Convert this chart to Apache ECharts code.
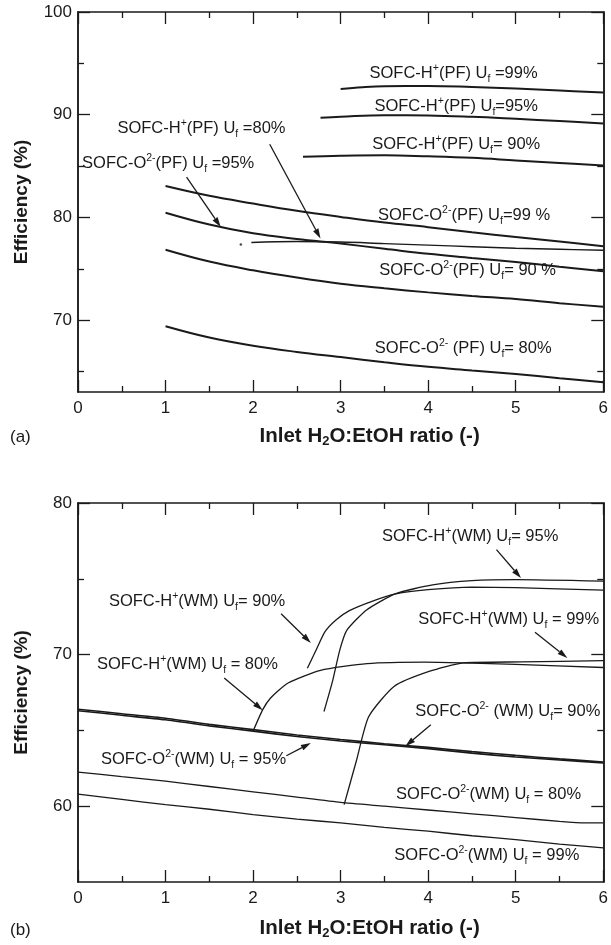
<!DOCTYPE html>
<html>
<head>
<meta charset="utf-8">
<script src="https://cdn.jsdelivr.net/npm/echarts@6/dist/echarts.min.js"></script>
<style>
html,body{margin:0;padding:0;background:#fff}
#chart{width:611px;height:945px}
</style>
</head>
<body>
<div id="chart"></div>
<script>
// ---- panel (a): PF curves, efficiency (%) vs inlet H2O:EtOH ratio ----
var pfO80 = [[1,69.4],[1.5,68.3],[2,67.5],[2.5,66.9],[3,66.4],[3.5,65.9],[4,65.45],[4.5,65.1],[5,64.75],[5.5,64.35],[6,63.95]];
var pfO90 = [[1,76.85],[1.5,75.7],[2,74.85],[2.5,74.15],[3,73.55],[3.5,73.1],[4,72.7],[4.5,72.35],[5,72.05],[5.5,71.65],[6,71.3]];
var pfO95 = [[1,80.45],[1.5,79.3],[2,78.45],[2.5,77.9],[3,77.45],[3.5,76.95],[4,76.45],[4.5,76.05],[5,75.65],[5.5,75.2],[6,74.75]];
var pfO99 = [[1,83.05],[1.5,82.1],[2,81.35],[2.5,80.65],[3,80.05],[3.5,79.5],[4,79.05],[4.5,78.55],[5,78.1],[5.5,77.65],[6,77.2]];
var pfH80 = [[1.98,77.55],[2.5,77.65],[3,77.6],[3.5,77.45],[4,77.3],[4.5,77.15],[5,77.0],[5.5,76.9],[6,76.8]];
var pfH90 = [[2.57,85.9],[3,86.0],[3.5,86.05],[4,85.95],[4.5,85.8],[5,85.55],[5.5,85.3],[6,85.05]];
var pfH95 = [[2.77,89.7],[3,89.8],[3.5,89.95],[4,89.93],[4.5,89.8],[5,89.6],[5.5,89.38],[6,89.15]];
var pfH99 = [[3.0,92.5],[3.25,92.68],[3.5,92.78],[4,92.8],[4.5,92.7],[5,92.55],[5.5,92.35],[6,92.15]];
var pfDot = [[1.86,77.35]];

// ---- panel (b): WM curves ----
var wmO90 = [[0,66.3],[0.5,66.0],[1,65.7],[1.5,65.3],[2,64.95],[2.5,64.6],[3,64.3],[3.5,64.05],[4,63.8],[4.5,63.5],[5,63.25],[5.5,63.05],[6,62.85]];
var wmO95 = [[0,66.4],[0.5,66.1],[1,65.8],[1.5,65.4],[2,65.05],[2.5,64.7],[3,64.4],[3.5,64.12],[4,63.88],[4.5,63.6],[5,63.35],[5.5,63.12],[6,62.92]];
var wmO80 = [[0,62.25],[0.5,61.95],[1,61.65],[1.5,61.3],[2,60.95],[2.5,60.6],[3,60.25],[3.5,60.0],[4,59.75],[4.5,59.5],[5,59.25],[5.5,59.0],[5.8,58.9],[6,58.9]];
var wmO99 = [[0,60.8],[0.5,60.45],[1,60.1],[1.5,59.8],[2,59.45],[2.5,59.15],[3,58.9],[3.5,58.6],[4,58.35],[4.5,58.05],[5,57.8],[5.5,57.5],[6,57.25]];
var wmH80 = [[2.0,64.95],[2.11,66.37],[2.2,67.14],[2.4,68.13],[2.77,68.96],[3.3,69.4],[3.96,69.5],[4.4,69.45],[5,69.35],[6,69.15]];
var wmH90 = [[2.62,69.1],[2.72,70.3],[2.82,71.5],[2.95,72.3],[3.1,72.9],[3.35,73.5],[3.63,74.0],[4.0,74.28],[4.5,74.45],[5,74.42],[6,74.25]];
var wmH95 = [[2.81,66.25],[2.91,68.3],[2.99,70.3],[3.07,71.6],[3.3,72.96],[3.63,74.02],[4.05,74.6],[4.5,74.88],[5,74.95],[6,74.85]];
var wmH99 = [[3.04,60.1],[3.18,63.0],[3.32,65.9],[3.61,67.9],[4.01,68.89],[4.4,69.45],[5.06,69.52],[6,69.6]];

// axis ticks
var xTicks = [0, 1, 2, 3, 4, 5, 6];
var pfYMajor = [70, 80, 90, 100];
var pfYMinor = [65, 75, 85, 95];
var wmYMajor = [60, 70, 80];
var wmYMinor = [65, 75];

// annotation labels (data coords) and arrows [x1, y1, x2, y2]
var pfLabelPos = [[4.29,94.0],[4.32,90.82],[4.32,87.12],[1.41,88.65],[1.03,85.24],[4.41,80.2],[4.45,74.85],[4.40,67.2]];
var pfLabelText = [
  '{n|SOFC-H}{sup|+}{n|(PF) U}{sub|f}{n| =99%}',
  '{n|SOFC-H}{sup|+}{n|(PF) U}{sub|f}{n|=95%}',
  '{n|SOFC-H}{sup|+}{n|(PF) U}{sub|f}{n|= 90%}',
  '{n|SOFC-H}{sup|+}{n|(PF) U}{sub|f}{n| =80%}',
  '{n|SOFC-O}{sup|2-}{n|(PF) U}{sub|f}{n| =95%}',
  '{n|SOFC-O}{sup|2-}{n|(PF) U}{sub|f}{n|=99 %}',
  '{n|SOFC-O}{sup|2-}{n|(PF) U}{sub|f}{n|= 90 %}',
  '{n|SOFC-O}{sup|2-}{n| (PF) U}{sub|f}{n|= 80%}'
];
var pfArrows = [[2.19,87.12,2.77,77.94],[1.24,83.93,1.63,79.07]];

var wmLabelPos = [[4.48,77.8],[1.36,73.51],[4.92,72.3],[1.25,69.36],[4.91,66.25],[1.32,63.06],[4.69,60.76],[4.67,56.73]];
var wmLabelText = [
  '{n|SOFC-H}{sup|+}{n|(WM) U}{sub|f}{n|= 95%}',
  '{n|SOFC-H}{sup|+}{n|(WM) U}{sub|f}{n|= 90%}',
  '{n|SOFC-H}{sup|+}{n|(WM) U}{sub|f}{n| = 99%}',
  '{n|SOFC-H}{sup|+}{n|(WM) U}{sub|f}{n| = 80%}',
  '{n|SOFC-O}{sup|2-}{n| (WM) U}{sub|f}{n|= 90%}',
  '{n|SOFC-O}{sup|2-}{n|(WM) U}{sub|f}{n| = 95%}',
  '{n|SOFC-O}{sup|2-}{n|(WM) U}{sub|f}{n| = 80%}',
  '{n|SOFC-O}{sup|2-}{n|(WM) U}{sub|f}{n| = 99%}'
];
var wmArrows = [[4.78,76.92,5.06,75.05],[2.32,72.7,2.66,70.77],[5.22,71.47,5.59,69.78],[1.67,68.46,2.11,66.33],[4.03,65.38,3.74,63.95],[2.38,63.33,2.66,64.17]];

var FONT = "'Liberation Sans', Arial, sans-serif";
var INK = '#1a1a1a';

var rich = {
  n: {fontSize: 16.5, lineHeight: 22, fontFamily: FONT, fill: INK},
  sup: {fontSize: 10.5, lineHeight: 10, verticalAlign: 'top', fontFamily: FONT, fill: INK},
  sub: {fontSize: 10.5, lineHeight: 10, verticalAlign: 'bottom', fontFamily: FONT, fill: INK}
};

var chart = echarts.init(document.getElementById('chart'));

function xAxes(gi, nameGap) {
  var base = {
    gridIndex: gi, type: 'value', min: 0, max: 6, interval: 1,
    splitLine: {show: false},
    axisLine: {show: true, onZero: false, lineStyle: {color: INK, width: 1.5}},
    axisTick: {show: true, inside: true, length: 12, lineStyle: {color: INK, width: 1.3}},
    minorTick: {show: true, splitNumber: 2, length: 6, lineStyle: {color: INK, width: 1.3}}
  };
  var bottom = Object.assign({}, base, {
    position: 'bottom',
    axisLabel: {show: true, customValues: xTicks, fontSize: 17, color: INK, fontFamily: FONT, margin: 8},
    name: '{b|Inlet H}{s|2}{b|O:EtOH ratio (-)}',
    nameLocation: 'middle',
    nameGap: nameGap,
    nameTextStyle: {
      padding: [0, 0, 0, 58],
      rich: {
        b: {fontSize: 20.5, fontWeight: 'bold', fontFamily: FONT, color: INK, lineHeight: 24},
        s: {fontSize: 13, fontWeight: 'bold', fontFamily: FONT, color: INK, lineHeight: 12, verticalAlign: 'bottom'}
      }
    }
  });
  var top = Object.assign({}, base, {position: 'top', axisLabel: {show: false}});
  return [bottom, top];
}

function yAxes(gi, min, max, major, minor) {
  function ax(pos, ticks, len, labels) {
    return {
      gridIndex: gi, type: 'value', min: min, max: max, position: pos,
      splitLine: {show: false},
      axisLine: {show: true, onZero: false, lineStyle: {color: INK, width: 1.5}},
      axisTick: {show: true, inside: true, length: len, customValues: ticks, lineStyle: {color: INK, width: 1.3}},
      axisLabel: labels ? {show: true, customValues: ticks, fontSize: 17, color: INK, fontFamily: FONT, margin: 6} : {show: false}
    };
  }
  var left = ax('left', major, 12, true);
  left.name = 'Efficiency (%)';
  left.nameLocation = 'middle';
  left.nameGap = 47;
  left.nameTextStyle = {fontSize: 19, fontWeight: 'bold', fontFamily: FONT, color: INK};
  return [left, ax('left', minor, 6, false), ax('right', major, 12, false), ax('right', minor, 6, false)];
}

function curve(data, gi, width, smooth) {
  return {
    type: 'line', xAxisIndex: gi * 2, yAxisIndex: gi * 4, data: data,
    symbol: 'none', showSymbol: false, smooth: smooth,
    lineStyle: {color: INK, width: width}, silent: true
  };
}

function labels(pos, texts, gi) {
  return {
    type: 'custom', xAxisIndex: gi * 2, yAxisIndex: gi * 4, data: pos, silent: true, z: 5,
    renderItem: function (params, api) {
      var p = api.coord([api.value(0), api.value(1)]);
      return {
        type: 'text', x: p[0], y: p[1],
        style: {text: texts[params.dataIndex], rich: rich, align: 'center', verticalAlign: 'middle',
          fontSize: 16.5, fontFamily: FONT, fill: INK}
      };
    }
  };
}

function arrows(list, gi) {
  return {
    type: 'custom', xAxisIndex: gi * 2, yAxisIndex: gi * 4, data: list, silent: true, z: 4,
    encode: {x: [0, 2], y: [1, 3]},
    renderItem: function (params, api) {
      var a = api.coord([api.value(0), api.value(1)]);
      var b = api.coord([api.value(2), api.value(3)]);
      var ang = Math.atan2(b[1] - a[1], b[0] - a[0]);
      var L = 10, W = 3;
      var bx = b[0] - L * Math.cos(ang), by = b[1] - L * Math.sin(ang);
      var nx = -Math.sin(ang) * W, ny = Math.cos(ang) * W;
      return {
        type: 'group',
        children: [
          {type: 'line', shape: {x1: a[0], y1: a[1], x2: bx, y2: by}, style: {stroke: INK, lineWidth: 1.3}},
          {type: 'polygon', shape: {points: [[b[0], b[1]], [bx + nx, by + ny], [bx - nx, by - ny]]}, style: {fill: INK}}
        ]
      };
    }
  };
}

var option = {
  animation: false,
  backgroundColor: '#fff',
  grid: [
    {left: 78, top: 12, width: 531, height: 380},
    {left: 78, top: 503, width: 531, height: 379}
  ],
  xAxis: xAxes(0, 32).concat(xAxes(1, 34)),
  yAxis: yAxes(0, 63, 100, pfYMajor, pfYMinor).concat(yAxes(1, 55, 80, wmYMajor, wmYMinor)),
  graphic: [
    {type: 'text', left: 10, top: 429, style: {text: '(a)', fontSize: 17, fontFamily: FONT, fill: INK}},
    {type: 'text', left: 10, top: 922, style: {text: '(b)', fontSize: 17, fontFamily: FONT, fill: INK}}
  ],
  series: [
    curve(pfO80, 0, 2, 0.4),
    curve(pfO90, 0, 2, 0.4),
    curve(pfO95, 0, 2, 0.4),
    curve(pfO99, 0, 2, 0.4),
    curve(pfH80, 0, 1.4, 0.4),
    curve(pfH90, 0, 2, 0.4),
    curve(pfH95, 0, 2, 0.4),
    curve(pfH99, 0, 2, 0.4),
    {type: 'scatter', xAxisIndex: 0, yAxisIndex: 0, data: pfDot, symbolSize: 2.5, itemStyle: {color: INK}, silent: true},
    labels(pfLabelPos, pfLabelText, 0),
    arrows(pfArrows, 0),

    curve(wmO90, 1, 1.6, 0.2),
    curve(wmO95, 1, 1.6, 0.2),
    curve(wmO80, 1, 1.3, 0.2),
    curve(wmO99, 1, 1.3, 0.2),
    curve(wmH80, 1, 1.3, 0.2),
    curve(wmH90, 1, 1.3, 0.2),
    curve(wmH95, 1, 1.3, 0.2),
    curve(wmH99, 1, 1.3, 0.2),
    labels(wmLabelPos, wmLabelText, 1),
    arrows(wmArrows, 1)
  ]
};

chart.setOption(option);
</script>
</body>
</html>
